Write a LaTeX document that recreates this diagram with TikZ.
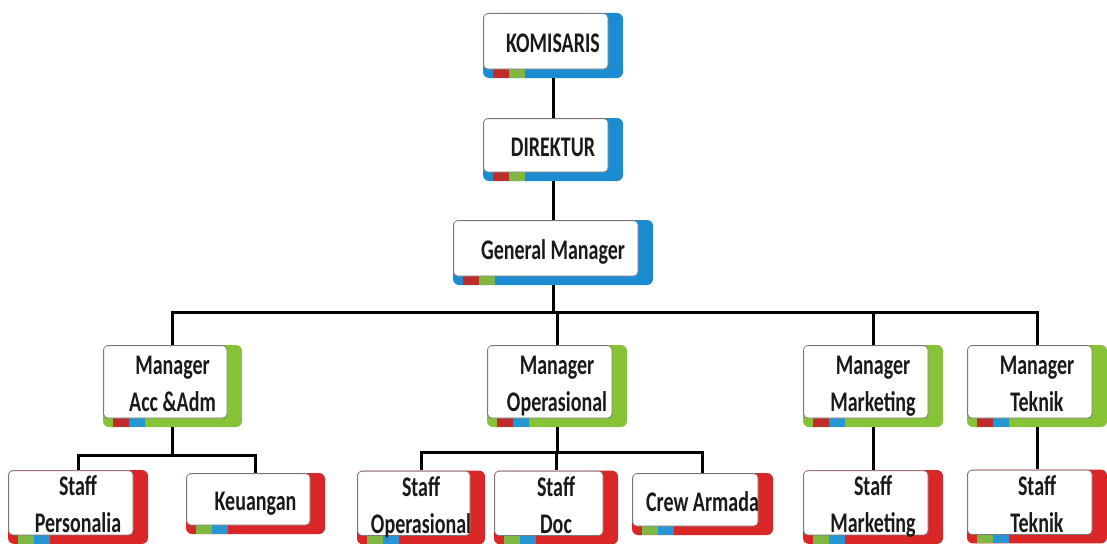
\documentclass[tikz,border=0pt]{standalone}
\usepackage{fontspec}
\setmainfont{Carlito}
\usepackage{graphicx}
\definecolor{bandblue}{RGB}{28,140,210}
\definecolor{bandgreen}{RGB}{135,195,55}
\definecolor{bandred}{RGB}{218,38,38}
\definecolor{stripred}{RGB}{192,44,44}
\definecolor{stripgreen}{RGB}{128,182,66}
\definecolor{stripblue}{RGB}{38,150,212}
\definecolor{boxline}{RGB}{120,120,120}
\newcommand{\lbl}[1]{\scalebox{1}[1.42]{\begin{tabular}{@{}c@{}}#1\end{tabular}}}
\tikzset{
    orgbox/.style n args={3}{rectangle, rounded corners=6pt, fill=#1, inner sep=0pt,
        font=\fontsize{20}{26}\selectfont\bfseries, text=black!90,
        path picture={
            \fill[#2, sharp corners] ([xshift=10pt]path picture bounding box.south west)
                rectangle ([xshift=26pt, yshift=9pt]path picture bounding box.south west);
            \fill[#3, sharp corners] ([xshift=26pt]path picture bounding box.south west)
                rectangle ([xshift=42pt, yshift=9pt]path picture bounding box.south west);
            \filldraw[fill=white, draw=boxline, line width=0.8pt, rounded corners=4pt]
                ([xshift=0.6pt, yshift=-0.6pt]path picture bounding box.north west)
                rectangle ([xshift=-15pt, yshift=9pt]path picture bounding box.south east);
        }},
    bluebox/.style={orgbox={bandblue}{stripred}{stripgreen}},
    greenbox/.style={orgbox={bandgreen}{stripred}{stripblue}},
    redbox/.style={orgbox={bandred}{stripgreen}{stripblue}},
    link/.style={line width=3pt},
}

\begin{document}
\begin{tikzpicture}[x=1pt, y=-1pt]
    \useasboundingbox (0,0) rectangle (1107,543);
    % top of the chart
    \node[bluebox, minimum width=140pt, minimum height=65pt] (kom) at (553,45.5) {\lbl{KOMISARIS}};
    \node[bluebox, minimum width=140pt, minimum height=63pt] (dir) at (553,149.5) {\lbl{DIREKTUR}};
    \node[bluebox, minimum width=200pt, minimum height=65pt] (gm) at (553,252.5) {\lbl{General Manager}};
    % managers
    \node[greenbox, minimum width=139pt, minimum height=82pt] (acc) at (172.5,386) {\lbl{Manager\\Acc \&Adm}};
    \node[greenbox, minimum width=140pt, minimum height=82pt] (opr) at (557,386) {\lbl{Manager\\Operasional}};
    \node[greenbox, minimum width=140pt, minimum height=82pt] (mkt) at (873,386) {\lbl{Manager\\Marketing}};
    \node[greenbox, minimum width=140pt, minimum height=82pt] (tek) at (1037,386) {\lbl{Manager\\Teknik}};
    % staff
    \node[redbox, minimum width=140pt, minimum height=72pt] (per) at (78,507) {\lbl{Staff\\Personalia}};
    \node[redbox, minimum width=139pt, minimum height=61pt] (keu) at (255.5,503.5) {\lbl{Keuangan}};
    \node[redbox, minimum width=128pt, minimum height=71pt] (sop) at (421,507.5) {\lbl{Staff\\Operasional}};
    \node[redbox, minimum width=124pt, minimum height=71pt] (doc) at (556,507.5) {\lbl{Staff\\Doc}};
    \node[redbox, minimum width=141pt, minimum height=62pt] (crew) at (702.5,504) {\lbl{Crew Armada}};
    \node[redbox, minimum width=140pt, minimum height=72pt] (smk) at (873,507) {\lbl{Staff\\Marketing}};
    \node[redbox, minimum width=140pt, minimum height=73pt] (stk) at (1037,506.5) {\lbl{Staff\\Teknik}};
    % lines
    \draw[link] (kom) -- (dir);
    \draw[link] (dir) -- (gm);
    \coordinate (gmbus) at (gm.south |- 0,312);
    \draw[link] (gm) -- (gmbus);
    \foreach \m in {acc, opr, mkt, tek}
        \draw[link] (gmbus) -| (\m);
    \coordinate (accbus) at (acc.south |- 0,455);
    \draw[link] (acc) -- (accbus);
    \foreach \s in {per, keu}
        \draw[link] (accbus) -| (\s);
    \coordinate (oprbus) at (opr.south |- 0,452);
    \draw[link] (opr) -- (oprbus);
    \foreach \s in {sop, doc, crew}
        \draw[link] (oprbus) -| (\s);
    \draw[link] (mkt) -- (smk);
    \draw[link] (tek) -- (stk);
\end{tikzpicture}
\end{document}
